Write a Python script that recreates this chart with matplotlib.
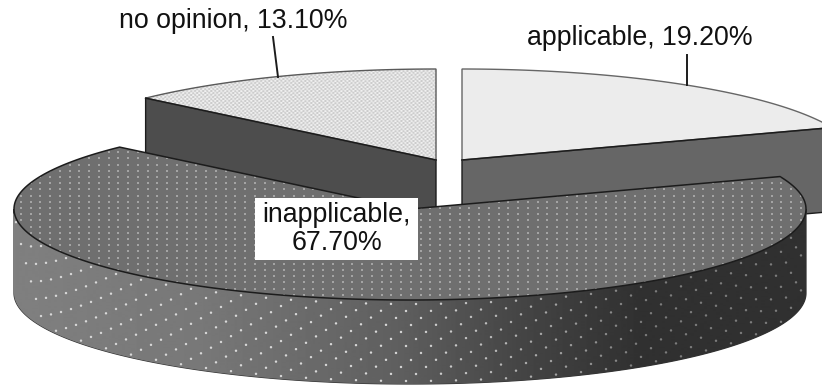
import numpy as np
import matplotlib
matplotlib.use("Agg")
import matplotlib.pyplot as plt
from matplotlib.colors import LinearSegmentedColormap
from matplotlib.patches import Polygon, Rectangle
from matplotlib.path import Path

# survey shares, drawn clockwise from twelve o'clock
categories = ["applicable", "inapplicable", "no opinion"]
shares = [19.2, 67.7, 13.1]

W, H = 822, 385
RX, RY, DEPTH = 396, 91, 84
INK = "#1c1c1c"
FONT = "Liberation Sans"

fig = plt.figure(figsize=(W / 100, H / 100), dpi=100, facecolor="white")
ax = fig.add_axes([0, 0, 1, 1])


def rim(cx, cy, a0, a1, n=240):
    t = np.radians(np.linspace(a0, a1, n))
    return cx + RX * np.cos(t), cy - RY * np.sin(t)


def top_face(cx, cy, a0, a1):
    x, y = rim(cx, cy, a0, a1)
    return np.column_stack([np.r_[cx, x], np.r_[cy, y]])


# slice angles follow from the shares, decreasing clockwise from 90 degrees
stops = 90 - np.cumsum([0] + shares) * 3.6
ang = {c: (stops[i], stops[i + 1]) for i, c in enumerate(categories)}

# ---- no opinion slice (rear left) ----
c0 = (436, 160)
a_in, a_top = ang["no opinion"]
ex, ey = rim(*c0, a_in, a_in, 1)
wall = np.array([[c0[0], c0[1]], [ex[0], ey[0]], [ex[0], ey[0] + DEPTH], [c0[0], c0[1] + DEPTH]])
ax.add_patch(Polygon(wall, closed=True, fc="#4d4d4d", ec=INK, lw=1.0, zorder=2))
face = Polygon(top_face(*c0, a_in, a_top), closed=True, fc="#d9d9d9", ec="none", zorder=3)
ax.add_patch(face)
yy, xx = np.mgrid[0:H, 0:W]
weave = 204 + 28 * (((xx // 2) + (yy // 2)) % 2) + 10 * ((xx // 3 + yy) % 3 == 0)
im = ax.imshow(weave, cmap="gray", vmin=0, vmax=255, extent=(0, W, H, 0), aspect="auto",
               interpolation="bilinear", zorder=3.1)
im.set_clip_path(face)
ax.add_patch(Polygon(top_face(*c0, a_in, a_top), closed=True, fc="none", ec="#5a5a5a", lw=1.0, zorder=3.2))
ax.plot([c0[0], ex[0]], [c0[1], ey[0]], color=INK, lw=1.1, zorder=3.3)

# ---- applicable slice (rear right) ----
c1 = (462, 160)
a_top, a_end = ang["applicable"]
ex, ey = rim(*c1, a_end, a_end, 1)
wall = np.array([[c1[0], c1[1]], [ex[0], ey[0]], [ex[0], ey[0] + DEPTH], [c1[0], c1[1] + DEPTH]])
ax.add_patch(Polygon(wall, closed=True, fc="#666666", ec=INK, lw=1.0, zorder=2))
ax.add_patch(Polygon(top_face(*c1, a_top, a_end), closed=True, fc="#ececec", ec="#666666", lw=1.0, zorder=3))
ax.plot([c1[0], ex[0]], [c1[1], ey[0]], color=INK, lw=1.1, zorder=3.3)

# ---- inapplicable slice (front) ----
c2 = (410, 209)
a0, a1 = ang["inapplicable"]
shade_x = [14, 200, 400, 520, 640, 806]
shade_v = [0.50, 0.47, 0.37, 0.27, 0.19, 0.19]


def side_shade(x):
    return np.interp(x, shade_x, shade_v)


bx, by = rim(*c2, 180, 360)
side_xy = np.column_stack([np.r_[bx, bx[::-1]], np.r_[by, by[::-1] + DEPTH]])
side = Polygon(side_xy, closed=True, fc="#555555", ec="#333333", lw=0.9, zorder=4)
ax.add_patch(side)
ramp = side_shade(np.arange(W))[None, :]
grad = ax.imshow(ramp, cmap=LinearSegmentedColormap.from_list("k", ["#000000", "#ffffff"]), vmin=0, vmax=1,
                 extent=(0, W, H, 0), aspect="auto", zorder=4.1)
grad.set_clip_path(side)

# staggered dot fabric that follows the curve of the wall
pitch = 25.0
xs, deps = [], []
for j, d in enumerate(np.arange(4.0, DEPTH, 7.0)):
    col = np.arange(16 + (j % 2) * pitch / 2.0 + 2.5 * j, 806, pitch)
    xs.append(col)
    deps.append(np.full_like(col, d))
sx = np.concatenate(xs)
deps = np.concatenate(deps)
sy = c2[1] + RY * np.sqrt(np.clip(1 - ((sx - c2[0]) / RX) ** 2, 0, 1)) + deps
base = side_shade(sx)
dot_cols = np.column_stack([base + (0.85 - base) * np.interp(sx, [400, 640], [1.0, 0.45])] * 3).clip(0, 1)
dots = ax.scatter(sx, sy, s=3.0, c=dot_cols, marker="o", linewidths=0, zorder=4.2)
dots.set_clip_path(side)

# front top face with its regular grid of light flecks
outline = top_face(*c2, a0, a1)
front = Polygon(outline, closed=True, fc="#6f6f6f", ec="none", zorder=5)
ax.add_patch(front)
gx, gy = np.meshgrid(np.arange(11, W, 9.75), np.arange(146, 305, 6.2))
fleck = Path([(-1, -0.42), (1, -0.42), (1, 0.42), (-1, 0.42), (-1, -0.42)], closed=True)
flecks = ax.scatter(gx.ravel(), gy.ravel(), s=4.2, c="#a4a4a4", marker=fleck, linewidths=0, zorder=5.1)
flecks.set_clip_path(front)
ax.add_patch(Polygon(outline, closed=True, fc="none", ec=INK, lw=1.1, zorder=5.2))

# ---- leader lines and labels ----
ax.plot([273, 278], [37, 77], color=INK, lw=1.4, zorder=6)
ax.plot([687, 687], [55, 85], color=INK, lw=1.4, zorder=6)


def pct(i):
    return f"{categories[i]}, {shares[i]:.2f}%"


ax.text(233, 21, pct(2), ha="center", va="center", fontsize=19.3, family=FONT, color="#111111", zorder=7)
ax.text(640, 38, pct(0), ha="center", va="center", fontsize=19.3, family=FONT, color="#111111", zorder=7)
ax.add_patch(Rectangle((255, 198), 163, 61.5, fc="white", ec="none", zorder=6))
ax.text(336.5, 229.5, f"{categories[1]},\n{shares[1]:.2f}%", ha="center", va="center", fontsize=19.3,
        family=FONT, color="#111111", linespacing=1.1, zorder=7)

ax.set_xlim(0, W)
ax.set_ylim(H, 0)
ax.axis("off")
fig.savefig("out.png", dpi=100, facecolor="white")
